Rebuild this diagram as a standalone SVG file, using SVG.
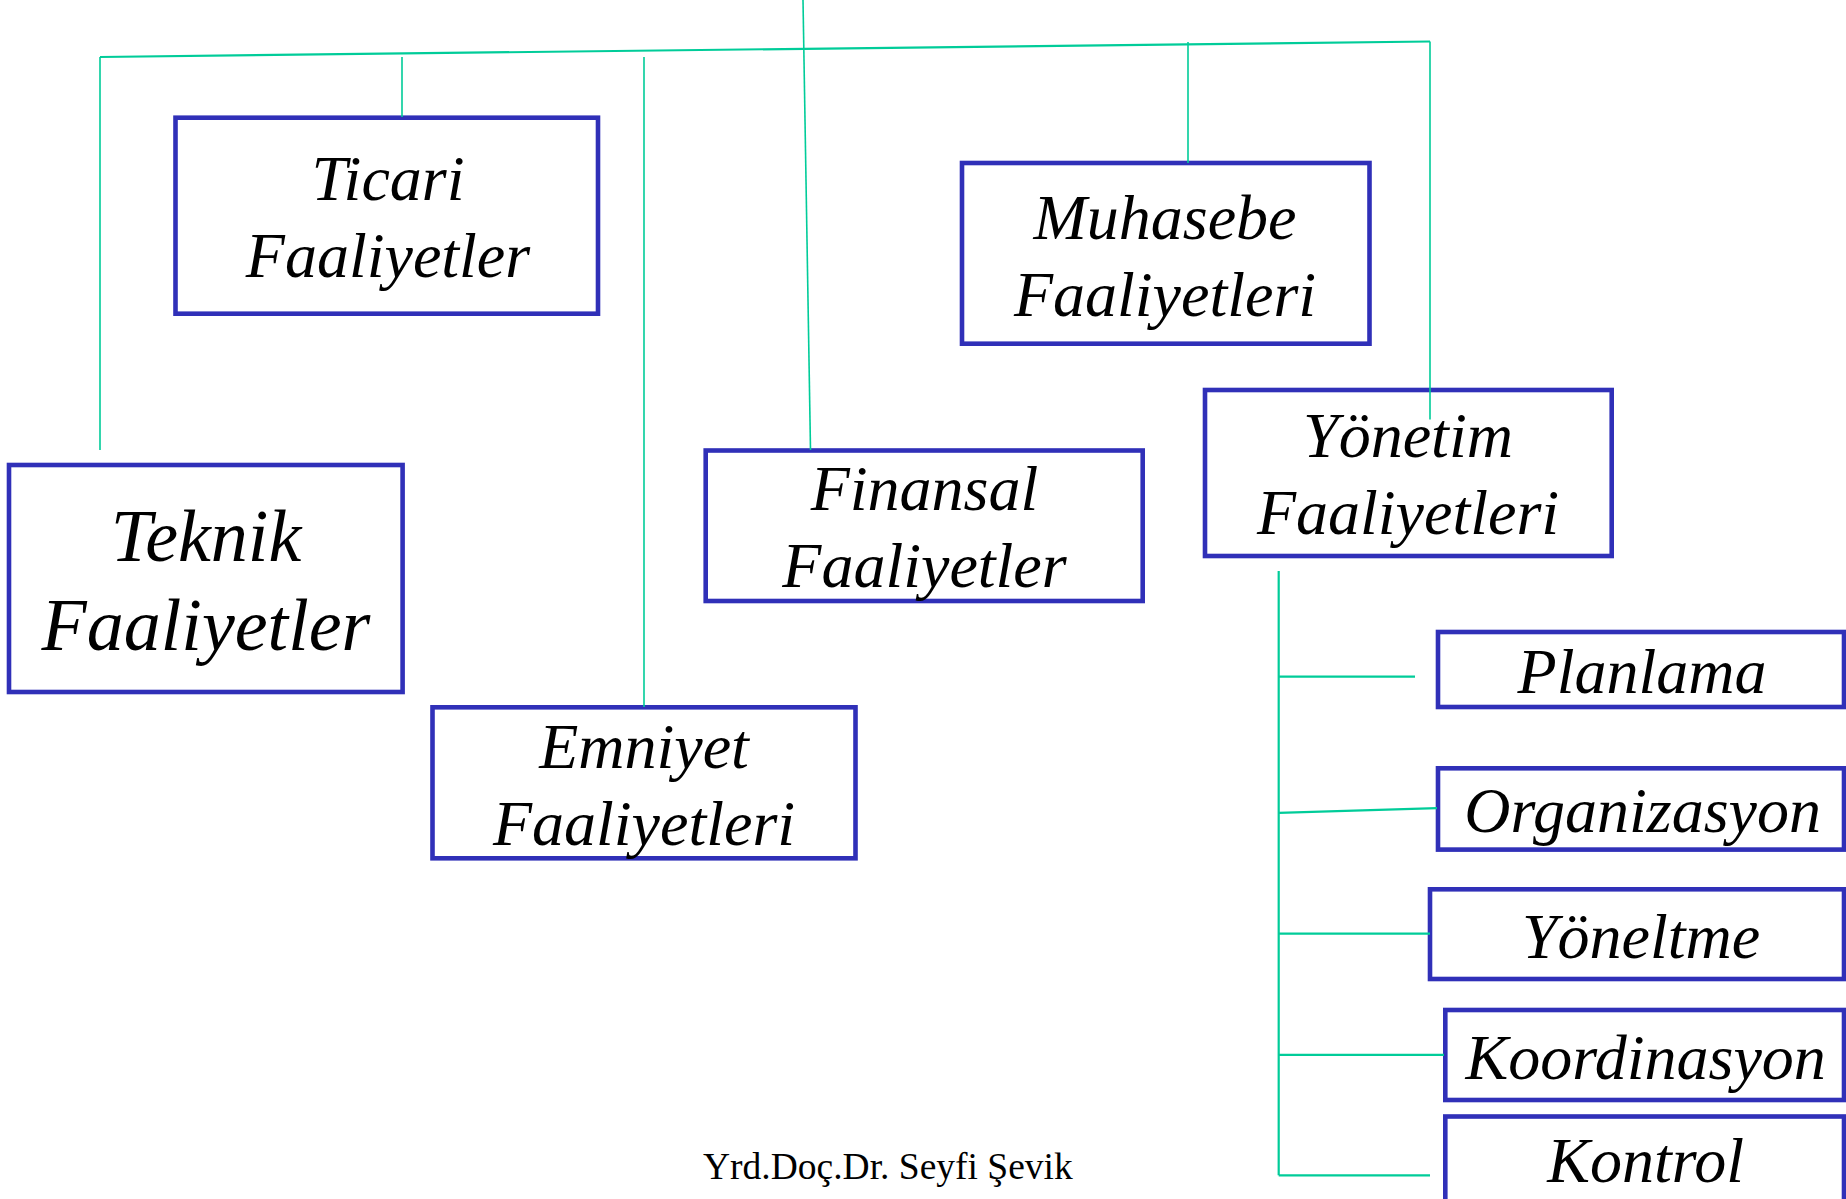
<svg xmlns="http://www.w3.org/2000/svg" width="1846" height="1199" viewBox="0 0 1846 1199">
  <style>
    .box { fill: #ffffff; stroke: #3030b8; stroke-width: 4.6; }
    .lbl { font-family: "Liberation Serif", "Times New Roman", serif; font-style: italic; font-size: 64px; fill: #000000; text-anchor: middle; }
    .big { font-size: 74px; }
    .wire { stroke: #00cc99; fill: none; stroke-width: 1.6; }
    .bus { stroke: #00cc99; fill: none; stroke-width: 2.2; }
    .foot { font-family: "Liberation Serif", "Times New Roman", serif; font-size: 37.5px; fill: #000000; }
  </style>
  <rect width="1846" height="1199" fill="#ffffff"/>

  <g id="ticari">
    <rect class="box" x="175.5" y="117.7" width="422.5" height="196"/>
    <text class="lbl" x="388" y="200">Ticari</text>
    <text class="lbl" x="388" y="276.7">Faaliyetler</text>
  </g>

  <g id="muhasebe">
    <rect class="box" x="962" y="163" width="407.5" height="180.7"/>
    <text class="lbl" x="1165" y="239.2">Muhasebe</text>
    <text class="lbl" x="1165" y="315.7">Faaliyetleri</text>
  </g>

  <g id="teknik">
    <rect class="box" x="9" y="465" width="393.6" height="227"/>
    <text class="lbl big" x="206" y="560.7">Teknik</text>
    <text class="lbl big" x="206" y="650">Faaliyetler</text>
  </g>

  <g id="finansal">
    <rect class="box" x="705.7" y="450.5" width="437" height="150.5"/>
    <text class="lbl" x="924.5" y="510">Finansal</text>
    <text class="lbl" x="924.5" y="586.7">Faaliyetler</text>
  </g>

  <g id="yonetim">
    <rect class="box" x="1205" y="390" width="406.7" height="166"/>
    <text class="lbl" x="1408" y="457.3">Yönetim</text>
    <text class="lbl" x="1408" y="533.9">Faaliyetleri</text>
  </g>

  <g id="emniyet">
    <rect class="box" x="432.5" y="707.3" width="423" height="151"/>
    <text class="lbl" x="644" y="768.3">Emniyet</text>
    <text class="lbl" x="644" y="845">Faaliyetleri</text>
  </g>

  <g id="planlama">
    <rect class="box" x="1438" y="632" width="406" height="75"/>
    <text class="lbl" x="1642" y="693.3">Planlama</text>
  </g>

  <g id="organizasyon">
    <rect class="box" x="1438" y="768.3" width="406" height="81.3"/>
    <text class="lbl" x="1642.6" y="831.9">Organizasyon</text>
  </g>

  <g id="yoneltme">
    <rect class="box" x="1430" y="889.3" width="414" height="89.7"/>
    <text class="lbl" x="1641" y="957.8">Yöneltme</text>
  </g>

  <g id="koordinasyon">
    <rect class="box" x="1445.3" y="1010" width="398.7" height="90"/>
    <text class="lbl" x="1645.7" y="1079.4">Koordinasyon</text>
  </g>

  <g id="kontrol">
    <rect class="box" x="1445.3" y="1116.5" width="398.7" height="120"/>
    <text class="lbl" x="1645.7" y="1182">Kontrol</text>
  </g>

  <!-- connectors, drawn over the boxes -->
  <g id="connectors">
    <line class="bus" x1="100" y1="57" x2="1430" y2="41.5"/>
    <line class="wire" x1="100" y1="57" x2="100" y2="450"/>
    <line class="wire" x1="402" y1="57" x2="402" y2="117"/>
    <line class="wire" x1="644" y1="57" x2="644" y2="707"/>
    <line class="wire" x1="803" y1="0" x2="810.5" y2="450"/>
    <line class="wire" x1="1188" y1="42" x2="1188" y2="163"/>
    <line class="wire" x1="1430" y1="41.5" x2="1430" y2="419.5"/>
    <line class="bus" x1="1278.7" y1="571" x2="1278.7" y2="1175.3"/>
    <line class="bus" x1="1278.7" y1="676.7" x2="1415" y2="676.7"/>
    <line class="bus" x1="1278.7" y1="812.9" x2="1437" y2="808.2"/>
    <line class="bus" x1="1278.7" y1="933.7" x2="1430" y2="933.7"/>
    <line class="bus" x1="1278.7" y1="1054.9" x2="1444" y2="1054.9"/>
    <line class="bus" x1="1278.7" y1="1175.3" x2="1430" y2="1175.3"/>
  </g>

  <text class="foot" x="703" y="1178.5">Yrd.Doç.Dr. Seyfi Şevik</text>
</svg>
